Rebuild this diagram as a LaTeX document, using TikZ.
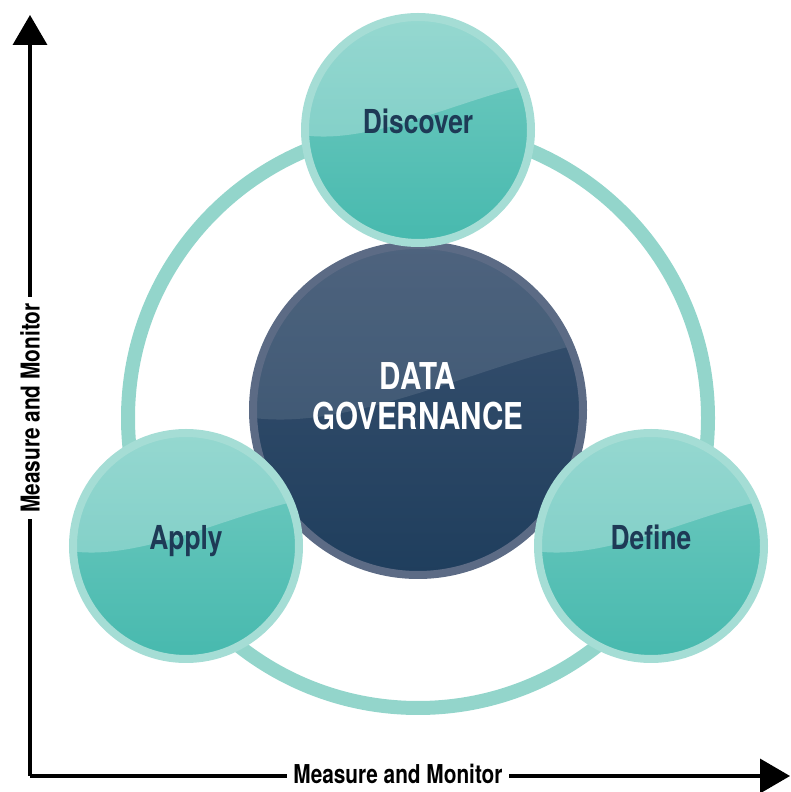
\documentclass[tikz,border=0pt]{standalone}
\usepackage{fontspec}
\setmainfont{TeX Gyre Heros}[FakeStretch=0.8]
\usetikzlibrary{arrows.meta,calc}
\definecolor{tealrim}{HTML}{A5DDD5}
\definecolor{tealtop}{HTML}{72CBC1}
\definecolor{tealbot}{HTML}{47B9AE}
\definecolor{ringteal}{HTML}{93D5CB}
\definecolor{navytext}{HTML}{1E3A56}
\definecolor{slaterim}{HTML}{5C6B85}
\definecolor{navytop}{HTML}{3A5270}
\definecolor{navybot}{HTML}{1F3E5D}

\tikzset{
  gloss/.style n args={2}{path picture={
      \fill[white,opacity=#1]
        ($(path picture bounding box.center)+(-1.1*#2,-0.03*#2)$)
        .. controls +(0.65*#2,-0.15*#2) and +(-0.65*#2,-0.1*#2) ..
        ($(path picture bounding box.center)+(1.1*#2,0.42*#2)$)
        -- ++(0,0.8*#2) -- ++(-2.2*#2,0) -- cycle;}},
  ball/.style={circle, inner sep=0pt, minimum size=226pt, draw=tealrim,
    line width=8pt, top color=tealtop, bottom color=tealbot, gloss={.25}{113},
    text=navytext, font=\bfseries\fontsize{33}{33}\selectfont,
    text height=24pt, text depth=16pt},
  hubball/.style={circle, inner sep=0pt, minimum size=330pt, draw=slaterim,
    line width=8pt, top color=navytop, bottom color=navybot, gloss={.1}{165}},
  hubtext/.style={align=center, text=white,
    font=\bfseries\fontsize{37}{40}\selectfont},
  axislabel/.style={fill=white, inner xsep=6pt, inner ysep=2pt,
    font=\bfseries\fontsize{26}{26}\selectfont},
  axisline/.style={line width=3.5pt, -{Triangle[width=34pt,length=30pt]}}
}

\begin{document}
\begin{tikzpicture}[x=1pt,y=1pt]
  \useasboundingbox (0,0) rectangle (791,792);

  %Ring
  \coordinate (ringc) at (418,374);
  \draw[ringteal, line width=14pt] (ringc) circle[radius=290];

  %Nodes
  \node[hubball] at (418,382) (hub) {};
  \node[hubtext] at ($(hub.center)+(0,14)$) (hubtxt) {DATA\\GOVERNANCE};
  \node[ball] at (418,662) (discover) {Discover};
  \node[ball] at (186,246) (apply) {Apply};
  \node[ball] at (651,246) (define) {Define};

  %Axes
  \coordinate (origin) at (30,16);
  \coordinate (ytip) at (30,777);
  \coordinate (xtip) at (790,16);
  \draw[axisline] (origin) -- (ytip);
  \draw[axisline] (origin) -- (xtip);
  \node[axislabel, rotate=90] at (30,384) (ylabel) {Measure and Monitor};
  \node[axislabel] at (398,18) (xlabel) {Measure and Monitor};
\end{tikzpicture}
\end{document}
